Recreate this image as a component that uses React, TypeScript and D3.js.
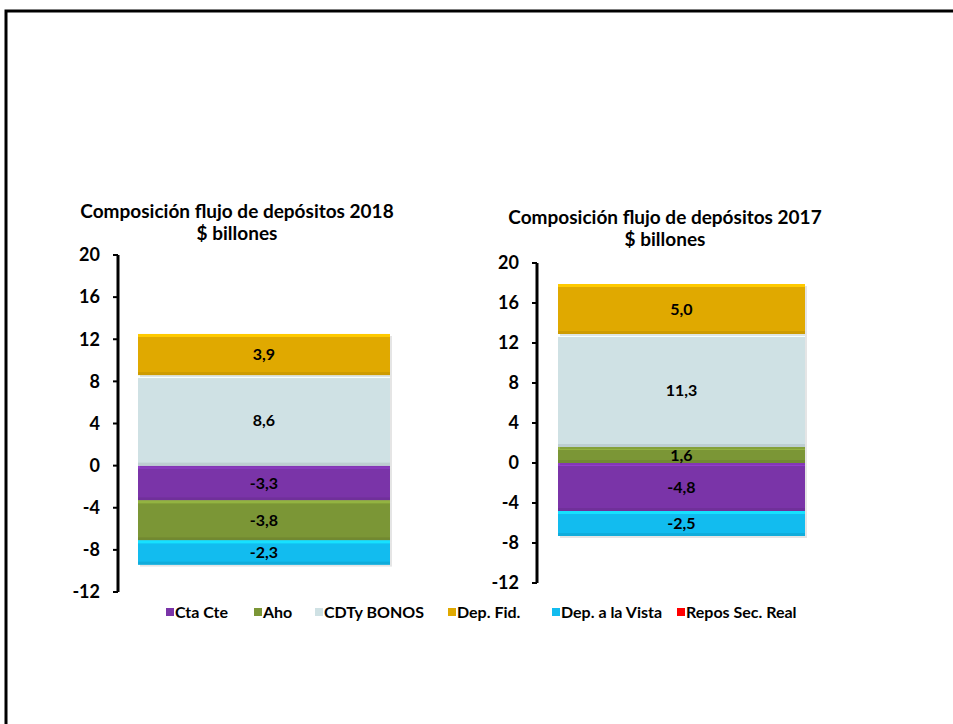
import React from "react";
import * as d3 from "d3";

const seriesNames = ["Cta Cte", "Aho", "CDTy BONOS", "Dep. Fid.", "Dep. a la Vista", "Repos Sec. Real"];
const seriesColors = ["#7A34A8", "#7B9636", "#CFE1E4", "#E0A900", "#12BCEF", "#FF0000"];
const values2018 = [-3.3, -3.8, 8.6, 3.9, -2.3, 0];
const values2017 = [-4.8, 1.6, 11.3, 5.0, -2.5, 0];
const yTicks = [-12, -8, -4, 0, 4, 8, 12, 16, 20];

const charts = [
  {
    title: ["Composición flujo de depósitos 2018", "$ billones"],
    values: values2018,
    titleX: 237, titleY: 218,
    axisX: 118, yTop: 255, yBottom: 592,
    barX0: 138, barX1: 390,
  },
  {
    title: ["Composición flujo de depósitos 2017", "$ billones"],
    values: values2017,
    titleX: 665, titleY: 224,
    axisX: 537, yTop: 263, yBottom: 583,
    barX0: 558, barX1: 805,
  },
];

const legendX = [166, 254, 315, 448, 552, 677];
const FONT = "Lato, 'Open Sans', sans-serif";

function fmt(v: number) {
  return v.toFixed(1).replace(".", ",");
}

function Chart({ c }: { c: typeof charts[number] }) {
  const y = d3.scaleLinear().domain([-12, 20]).range([c.yBottom, c.yTop]);
  const row: Record<string, number> = {};
  seriesNames.forEach((n, i) => (row[n] = c.values[i]));
  const stacked = d3.stack<Record<string, number>>().keys(seriesNames).offset(d3.stackOffsetDiverging)([row]);
  return (
    <g>
      <text x={c.titleX} y={c.titleY} textAnchor="middle" fontFamily={FONT} fontWeight="bold" fontSize={19} fill="#000">
        <tspan x={c.titleX}>{c.title[0]}</tspan>
        <tspan x={c.titleX} dy={22}>{c.title[1]}</tspan>
      </text>
      {stacked.map((s, i) => {
        const [a, b] = s[0];
        if (a === b) return null;
        const top = y(Math.max(a, b));
        const bot = y(Math.min(a, b));
        const h = bot - top;
        const col = d3.color(seriesColors[i])!;
        const e = Math.min(3, h / 3);
        return (
          <g key={s.key}>
            <rect x={c.barX0 + 2} y={top + 2} width={c.barX1 - c.barX0} height={h} fill="#000" opacity={0.1} />
            <rect x={c.barX0} y={top} width={c.barX1 - c.barX0} height={h} fill={seriesColors[i]} />
            <rect x={c.barX0} y={top} width={c.barX1 - c.barX0} height={e} fill={col.brighter(0.5).toString()} />
            <rect x={c.barX0} y={bot - e} width={c.barX1 - c.barX0} height={e} fill={col.darker(0.25).toString()} />
            <text x={(c.barX0 + c.barX1) / 2} y={(top + bot) / 2} dy="0.35em" textAnchor="middle" fontFamily={FONT} fontWeight="bold" fontSize={16} fill="#000">
              {fmt(c.values[i])}
            </text>
          </g>
        );
      })}
      <line x1={c.axisX} x2={c.axisX} y1={y(20)} y2={y(-12)} stroke="#000" strokeWidth={3} />
      {yTicks.map((t) => (
        <g key={t}>
          <line x1={c.axisX - 5} x2={c.axisX} y1={y(t)} y2={y(t)} stroke="#000" strokeWidth={2} />
          <text x={c.axisX - 18} y={y(t)} dy="0.35em" textAnchor="end" fontFamily={FONT} fontWeight="bold" fontSize={18} fill="#000">
            {t}
          </text>
        </g>
      ))}
    </g>
  );
}

export default function App() {
  return (
    <svg width={953} height={724} style={{ position: "absolute", left: 0, top: 0, background: "#fff" }}>
      <rect x={0} y={0} width={953} height={724} fill="#fff" />
      <path d="M6,730 V11 H960" fill="none" stroke="#000" strokeWidth={3} />
      {charts.map((c, i) => (
        <Chart key={i} c={c} />
      ))}
      <g>
        {seriesNames.map((n, i) => (
          <g key={n}>
            <rect x={legendX[i]} y={608} width={8} height={8} fill={seriesColors[i]} />
            <text x={legendX[i] + 9} y={612} dy="0.35em" fontFamily={FONT} fontWeight="bold" fontSize={16} fill="#000">
              {n}
            </text>
          </g>
        ))}
      </g>
    </svg>
  );
}
